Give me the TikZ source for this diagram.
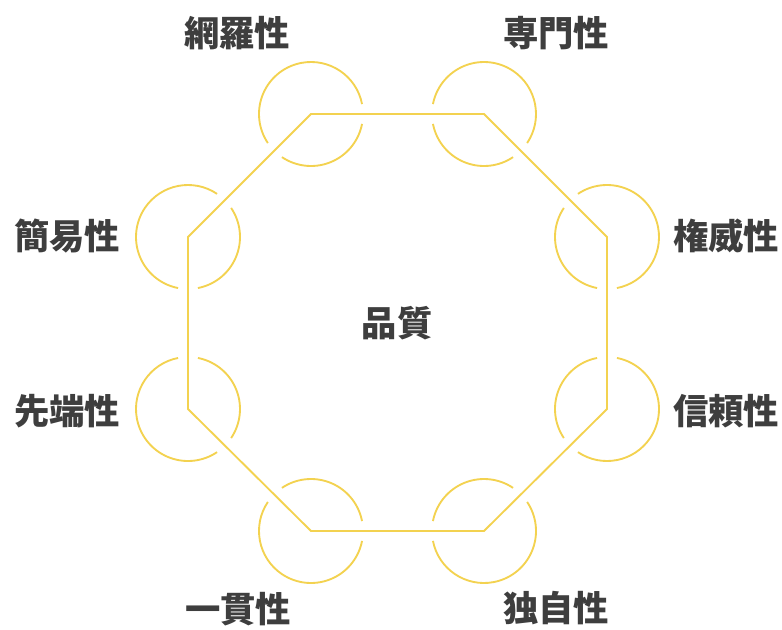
\documentclass[tikz,border=0pt]{standalone}
\usepackage{fontspec}
\newfontfamily\jp{Noto Sans CJK JP}
\definecolor{gold}{RGB}{243,210,80}
\definecolor{ink}{RGB}{62,62,62}
\tikzset{
  edge/.style={draw=gold, line width=1.4pt, line join=miter},
  ring/.style={draw=gold, line width=1.4pt},
  lbl/.style={text=ink, font=\jp\bfseries\fontsize{26.5}{29}\selectfont, inner sep=0pt, anchor=center},
}
% \ringarcs{vertex}{edge angle 1}{edge angle 2}
\newcommand{\ringarcs}[3]{%
  \pgfmathsetmacro{\ga}{#2+11}\pgfmathsetmacro{\gb}{#3-11}%
  \pgfmathsetmacro{\gc}{#3+11}\pgfmathsetmacro{\gd}{#2+349}%
  \draw[ring] (#1) ++(\ga:52) arc[start angle=\ga, end angle=\gb, radius=52];
  \draw[ring] (#1) ++(\gc:52) arc[start angle=\gc, end angle=\gd, radius=52];
}
\begin{document}
\begin{tikzpicture}[x=0.75pt,y=0.75pt]
\useasboundingbox (0,0) rectangle (782,-629);
\coordinate (v1) at (311,-114);
\coordinate (v2) at (484,-114);
\coordinate (v3) at (607,-237);
\coordinate (v4) at (607,-409);
\coordinate (v5) at (484,-531);
\coordinate (v6) at (311,-531);
\coordinate (v7) at (188,-409);
\coordinate (v8) at (188,-237);
\draw[edge] (v1) -- (v2) -- (v3) -- (v4) -- (v5) -- (v6) -- (v7) -- (v8) -- cycle;
\ringarcs{v1}{0}{225}
\ringarcs{v2}{180}{315}
\ringarcs{v3}{135}{270}
\ringarcs{v4}{90}{225}
\ringarcs{v5}{45}{180}
\ringarcs{v6}{0}{135}
\ringarcs{v7}{90}{315}
\ringarcs{v8}{45}{270}
\node[lbl] (center) at (397,-323) {品質};
\node[lbl] (t1) at (237,-33) {網羅性};
\node[lbl] (t2) at (556,-33) {専門性};
\node[lbl] (t3) at (726,-236) {権威性};
\node[lbl] (t4) at (726,-411) {信頼性};
\node[lbl] (t5) at (556,-608) {独自性};
\node[lbl] (t6) at (238,-609) {一貫性};
\node[lbl] (t7) at (67,-411) {先端性};
\node[lbl] (t8) at (67,-236) {簡易性};
\end{tikzpicture}
\end{document}
